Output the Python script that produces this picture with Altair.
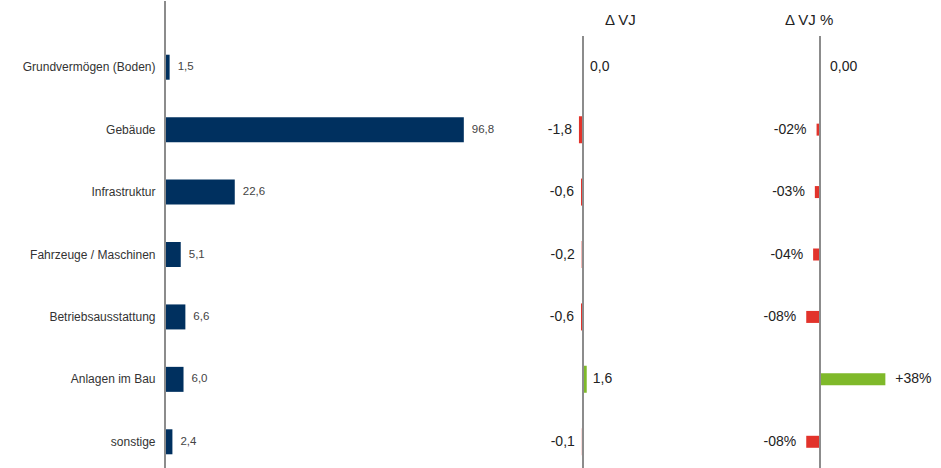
import altair as alt
import pandas as pd

categories = ["Grundvermögen (Boden)", "Gebäude", "Infrastruktur",
              "Fahrzeuge / Maschinen", "Betriebsausstattung", "Anlagen im Bau", "sonstige"]
values = [1.5, 96.8, 22.6, 5.1, 6.6, 6.0, 2.4]
delta_vj = [0.0, -1.8, -0.6, -0.2, -0.6, 1.6, -0.1]
delta_pct = [0, -2, -3, -4, -8, 38, -8]


def fmt1(v):
    return f"{v:.1f}".replace(".", ",")


def fmt_pct(v):
    if v == 0:
        return "0,00"
    sign = "+" if v > 0 else "-"
    return f"{sign}{abs(v):02d}%"


df = pd.DataFrame({
    "cat": categories,
    "v": values,
    "d": delta_vj,
    "p": delta_pct,
    "v_lab": [fmt1(v) for v in values],
    "d_lab": [fmt1(v) for v in delta_vj],
    "p_lab": [fmt_pct(v) for v in delta_pct],
})

H = 437
FONT = "Liberation Sans"
NAVY = "#00305f"
RED = "#e2332b"
GREEN = "#7fb92a"
AXIS_GRAY = "#8c8c8c"

main_axis = alt.Axis(domain=False, ticks=False, grid=False, labelPadding=10,
                     labelFont=FONT, labelFontSize=12, labelColor="#333333",
                     labelLimit=200, minExtent=165, maxExtent=165)
yenc_main = alt.Y("cat:N", sort=categories, title=None,
                  scale=alt.Scale(paddingInner=0, paddingOuter=0), axis=main_axis)
yenc = alt.Y("cat:N", sort=categories, title=None,
             scale=alt.Scale(paddingInner=0, paddingOuter=0), axis=None)

base = alt.Chart(df)

# Main panel
xs1 = alt.Scale(domain=[0, 115], nice=False, zero=True)
p1_bars = base.mark_bar(size=25, color=NAVY).encode(
    x=alt.X("v:Q", scale=xs1, axis=None), y=yenc_main)
p1_text = base.mark_text(align="left", dx=8, font=FONT, fontSize=11.5, color="#444444").encode(
    x=alt.X("v:Q", scale=xs1, axis=None), y=yenc_main, text="v_lab:N")
p1_axis = base.mark_rule(color=AXIS_GRAY, strokeWidth=1.5).encode(
    x=alt.datum(0, scale=xs1), y=alt.value(-35), y2=alt.value(H))
panel1 = alt.layer(p1_bars, p1_text, p1_axis).properties(width=355, height=H)

# Delta VJ panel
xs2 = alt.Scale(domain=[-37.06, 68.82], nice=False, zero=False)
color_cond = alt.condition("datum.d < 0", alt.value(RED), alt.value(GREEN))
p2_bars = base.transform_filter("datum.d != 0").mark_bar(size=25, strokeWidth=2).encode(
    x=alt.X("d:Q", scale=xs2, axis=None), x2=alt.datum(0), y=yenc,
    color=color_cond, stroke=color_cond)
p2_axis = base.mark_rule(color=AXIS_GRAY, strokeWidth=1.5).encode(x=alt.datum(0, scale=xs2))
p2_neg = base.transform_filter("datum.d < 0").mark_text(
    align="right", dx=-8, font=FONT, fontSize=14, color="#222222").encode(
    x=alt.X("d:Q", scale=xs2), y=yenc, text="d_lab:N")
p2_pos = base.transform_filter("datum.d >= 0").mark_text(
    align="left", dx=7, font=FONT, fontSize=14, color="#222222").encode(
    x=alt.X("d:Q", scale=xs2), y=yenc, text="d_lab:N")
panel2 = alt.layer(p2_bars, p2_axis, p2_neg, p2_pos).properties(
    width=180, height=H,
    title=alt.TitleParams("Δ VJ", anchor="start", dx=85, offset=7, font=FONT,
                          fontSize=15, fontWeight="normal", color="#222222"))

# Delta VJ % panel
xs3 = alt.Scale(domain=[-69.77, 70.35], nice=False, zero=False)
color_cond3 = alt.condition("datum.p < 0", alt.value(RED), alt.value(GREEN))
p3_bars = base.transform_filter("datum.p != 0").mark_bar(size=12).encode(
    x=alt.X("p:Q", scale=xs3, axis=None), x2=alt.datum(0), y=yenc, color=color_cond3)
p3_axis = base.mark_rule(color=AXIS_GRAY, strokeWidth=1.5).encode(x=alt.datum(0, scale=xs3))
p3_neg = base.transform_filter("datum.p < 0").mark_text(
    align="right", dx=-10, font=FONT, fontSize=14, color="#222222").encode(
    x=alt.X("p:Q", scale=xs3), y=yenc, text="p_lab:N")
p3_pos = base.transform_filter("datum.p >= 0").mark_text(
    align="left", dx=10, font=FONT, fontSize=14, color="#222222").encode(
    x=alt.X("p:Q", scale=xs3), y=yenc, text="p_lab:N")
panel3 = alt.layer(p3_bars, p3_axis, p3_neg, p3_pos).properties(
    width=241, height=H,
    title=alt.TitleParams("Δ VJ %", anchor="start", dx=85, offset=7, font=FONT,
                          fontSize=15, fontWeight="normal", color="#222222"))

chart = alt.hconcat(panel1, panel2, panel3, spacing=0, bounds="flush").resolve_scale(
    x="independent"
).properties(
    padding=0,
    background="white",
).configure_view(stroke=None)

chart.save("out.html", embed_options={"renderer": "svg", "actions": False})
